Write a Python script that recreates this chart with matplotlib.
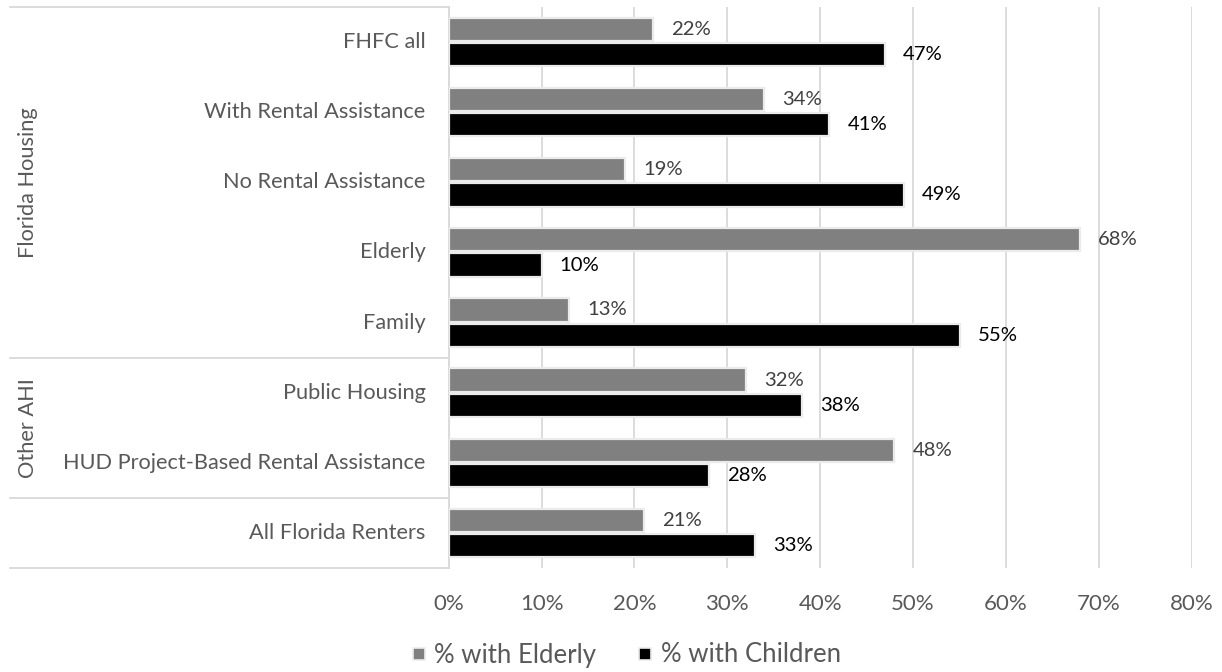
import matplotlib
matplotlib.use("Agg")
import matplotlib.pyplot as plt
from matplotlib.lines import Line2D
import numpy as np

categories = ["FHFC all", "With Rental Assistance", "No Rental Assistance", "Elderly",
              "Family", "Public Housing", "HUD Project-Based Rental Assistance",
              "All Florida Renters"]
pct_elderly = [22, 34, 19, 68, 13, 32, 48, 21]
pct_children = [47, 41, 49, 10, 55, 38, 28, 33]
groups = [("Florida Housing", 0, 5), ("Other AHI", 5, 7), ("", 7, 8)]
x_ticks = [0, 10, 20, 30, 40, 50, 60, 70, 80]

plt.rcParams["font.family"] = ["Lato", "DejaVu Sans"]
FS_CAT = 15.7
FS_VAL = 14.6
FS_TICK = 16
FS_LEG = 18.5
GREY_TXT = "#595959"
C_ELD = "#808080"
C_CHI = "#000000"
EDGE = "#ebebeb"

fig = plt.figure(figsize=(12.22, 6.72), dpi=100)
ax = fig.add_axes([448.7 / 1222, 104 / 672, 743 / 1222, 561 / 672])

n = len(categories)
y = np.arange(n)
h = 0.33
off = 0.18
ax.barh(y - off, pct_elderly, height=h, color=C_ELD, edgecolor=EDGE, linewidth=1.6, zorder=3)
ax.barh(y + off, pct_children, height=h, color=C_CHI, edgecolor=EDGE, linewidth=1.6, zorder=3)

for yi, v in zip(y, pct_elderly):
    ax.annotate(f"{v}%", (v, yi - off), xytext=(13, 0), textcoords="offset points",
                va="center", ha="left", fontsize=FS_VAL, color="#404040")
for yi, v in zip(y, pct_children):
    ax.annotate(f"{v}%", (v, yi + off), xytext=(13, 0), textcoords="offset points",
                va="center", ha="left", fontsize=FS_VAL, color="#000000")

ax.set_xlim(0, 80)
ax.set_ylim(n - 0.5, -0.5)
ax.set_xticks(x_ticks)
ax.set_xticklabels([f"{t}%" for t in x_ticks], fontsize=FS_TICK, color=GREY_TXT)
ax.tick_params(axis="x", length=0, pad=19)
ax.set_yticks([])
ax.grid(axis="x", color="#d9d9d9", linewidth=1.3, zorder=0)
for s in ["top", "right", "bottom"]:
    ax.spines[s].set_visible(False)
ax.spines["left"].set_color("#d9d9d9")
ax.spines["left"].set_linewidth(1.3)

# Category labels and grouped axis on the left
trans = ax.get_yaxis_transform()
x_left = (10 - 448.7) / 743  # axes fraction of left edge of the group area
for yi, name in zip(y, categories):
    ax.text(-23 / 743, yi, name, transform=trans, ha="right", va="center",
            fontsize=FS_CAT, color=GREY_TXT)

ax.add_line(Line2D([x_left, 0], [-0.5, -0.5], transform=trans, color="#d9d9d9",
                   linewidth=1.3, clip_on=False))
for label, a, b in groups:
    ax.add_line(Line2D([x_left, 0], [b - 0.5, b - 0.5], transform=trans, color="#d9d9d9",
                       linewidth=1.3, clip_on=False))
    if label:
        ax.text((28 - 448.7) / 743, (a + b - 1) / 2, label, transform=trans, rotation=90,
                ha="center", va="center", fontsize=FS_CAT, color=GREY_TXT)

# Legend
handles = [Line2D([], [], marker="s", linestyle="none", markersize=9,
                  markerfacecolor=C_ELD, markeredgecolor=EDGE, markeredgewidth=1.2),
           Line2D([], [], marker="s", linestyle="none", markersize=9,
                  markerfacecolor=C_CHI, markeredgecolor=EDGE, markeredgewidth=1.2)]
leg = fig.legend(handles, ["% with Elderly", "% with Children"], loc="center",
                 bbox_to_anchor=(626 / 1222, 1 - 655 / 672), ncol=2, frameon=False,
                 fontsize=FS_LEG, handlelength=0.6, handletextpad=0.3, columnspacing=1.6)
for t in leg.get_texts():
    t.set_color(GREY_TXT)

fig.savefig("out.png", dpi=100, facecolor="white")
